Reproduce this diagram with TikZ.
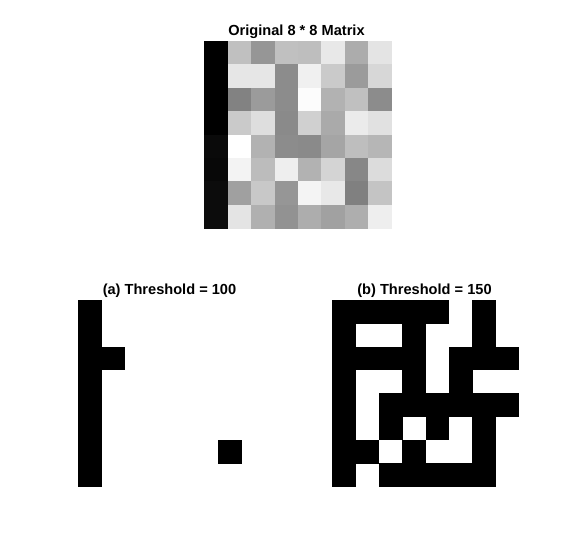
\documentclass[tikz,border=0pt]{standalone}
\usepackage{fontspec}
\setmainfont{Liberation Sans}
\begin{document}
\begin{tikzpicture}[x=1pt,y=-1pt,
  title/.style={font=\bfseries\fontsize{14.6}{17}\selectfont, inner sep=0pt, anchor=base}]
\useasboundingbox (0,0) rectangle (576,547);
\fill[white] (0,0) rectangle (576,547);
% original matrix
\def\cs{23.4}
\foreach \row [count=\r from 0] in {
  {0,192,150,192,190,232,172,228},
  {0,230,230,140,240,202,155,215},
  {0,130,155,140,252,178,192,140},
  {0,202,222,138,208,170,235,225},
  {10,255,178,140,138,165,190,182},
  {8,243,188,238,178,212,135,220},
  {12,160,200,150,244,232,128,196},
  {12,228,176,146,173,161,174,238}} {
  \foreach \v [count=\c from 0] in \row {
    \fill[fill={rgb,255:red,\v;green,\v;blue,\v}] ({204.3+\c*\cs},{41+\r*\cs}) rectangle +(\cs+0.3,\cs+0.3);
  }
}
\node[title] (t0) at (296.5,35) {Original 8 * 8 Matrix};
% threshold 100
\def\bs{23.34}
\foreach \row [count=\r from 0] in {
  {1,0,0,0,0,0,0,0},
  {1,0,0,0,0,0,0,0},
  {1,1,0,0,0,0,0,0},
  {1,0,0,0,0,0,0,0},
  {1,0,0,0,0,0,0,0},
  {1,0,0,0,0,0,0,0},
  {1,0,0,0,0,0,1,0},
  {1,0,0,0,0,0,0,0}} {
  \foreach \v [count=\c from 0] in \row {
    \ifnum\v=1
      \fill[black] ({78+\c*\bs},{300+\r*\bs}) rectangle +(\bs+0.3,\bs+0.3);
    \fi
  }
}
\node[title] (ta) at (169.5,294.5) {(a) Threshold = 100};
% threshold 150
\foreach \row [count=\r from 0] in {
  {1,1,1,1,1,0,1,0},
  {1,0,0,1,0,0,1,0},
  {1,1,1,1,0,1,1,1},
  {1,0,0,1,0,1,0,0},
  {1,0,1,1,1,1,1,1},
  {1,0,1,0,1,0,1,0},
  {1,1,0,1,0,0,1,0},
  {1,0,1,1,1,1,1,0}} {
  \foreach \v [count=\c from 0] in \row {
    \ifnum\v=1
      \fill[black] ({332.3+\c*\bs},{300+\r*\bs}) rectangle +(\bs+0.3,\bs+0.3);
    \fi
  }
}
\node[title] (tb) at (424.5,294.5) {(b) Threshold = 150};
\end{tikzpicture}
\end{document}
